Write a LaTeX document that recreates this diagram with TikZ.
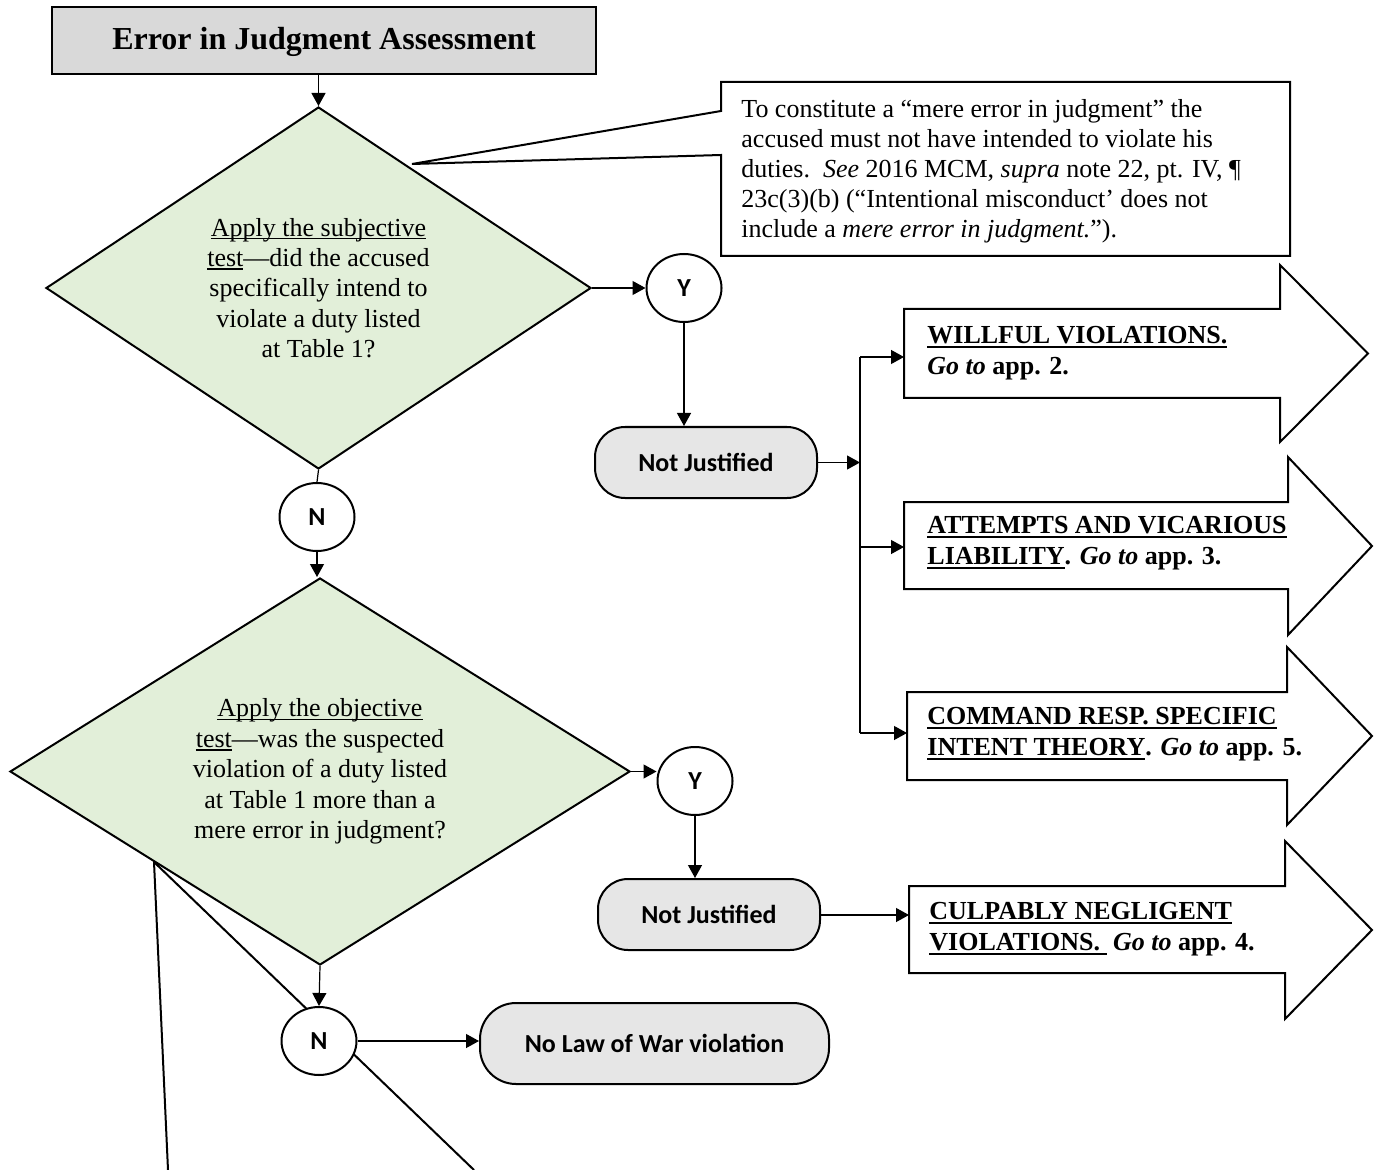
\documentclass[tikz,border=0pt]{standalone}
\usepackage{fontspec}
\setmainfont{Liberation Serif}
\newfontfamily\calibri{Carlito}
\usetikzlibrary{shapes.geometric,arrows.meta}
\definecolor{dgreen}{HTML}{E2EFD9}
\definecolor{tgray}{HTML}{D9D9D9}
\definecolor{ngray}{HTML}{E6E6E6}
\newsavebox\ulbox
\newcommand\myul[3]{\sbox\ulbox{#3}\leavevmode\rlap{\rule[-#2]{\wd\ulbox}{#1}}\usebox\ulbox}
\newcommand\thinul[1]{\myul{0.7pt}{1.7pt}{#1}}
\newcommand\thickul[1]{\myul{1.1pt}{2.2pt}{#1}}
\begin{document}
\begin{tikzpicture}[x=0.5pt,y=-0.5pt,
  titlebox/.style={draw,line width=1.2pt,fill=tgray,minimum width=272pt,minimum height=33.5pt,inner sep=0pt,text height=12.6pt,text depth=3.4pt,font=\fontsize{16}{19}\selectfont\bfseries},
  dia/.style={diamond,aspect=1.5,draw,line width=1pt,fill=dgreen,inner sep=0pt,align=center,font=\fontsize{13}{15.2}\selectfont},
  yn/.style={ellipse,draw,line width=1pt,fill=white,minimum width=37.5pt,minimum height=34pt,inner sep=0pt,font=\fontsize{13}{15}\selectfont\calibri\bfseries},
  term/.style={rectangle,rounded corners=15pt,draw,line width=1pt,fill=ngray,minimum height=35.5pt,inner sep=0pt,font=\fontsize{13}{15}\selectfont\calibri\bfseries},
  callout/.style={draw,line width=1pt,fill=white},
  ctext/.style={align=left,inner sep=0pt,font=\fontsize{13}{15}\selectfont},
  bigarrow/.style={draw,line width=1pt,fill=white},
  atext/.style={align=left,inner sep=0pt,font=\fontsize{13}{15.5}\selectfont\bfseries},
  conn/.style={line width=0.6pt,-{Triangle[length=6.5pt,width=7pt]}},
  plain/.style={line width=0.6pt},
  longline/.style={line width=1pt}]
\useasboundingbox (0,0) rectangle (1379,1170);

% title
\node[titlebox] (title) at (324,40.5) {Error in Judgment Assessment};

% first decision
\node[dia,minimum width=272.5pt,minimum height=181pt] (d1) at (318.5,288)
  {\thinul{Apply the subjective}\\ \thinul{test}—did the accused\\ specifically intend to\\ violate a duty listed\\ at Table 1?};

% callout
\coordinate (ctip) at (412,164);
\draw[callout] (721,111) -- (721,82) -- (1290,82) -- (1290,256) -- (721,256) -- (721,155) -- (ctip) -- cycle;
\node[ctext,anchor=west] (ctxt) at (741,171)
  {To constitute a “mere error in judgment” the\\
   accused must not have intended to violate his\\
   duties.\ \ \textit{See} 2016 MCM, \textit{supra} note 22, pt. IV, ¶\\
   23c(3)(b) (“Intentional misconduct' does not\\
   include a \textit{mere error in judgment.}”).};

% Y1 and not justified 1
\node[yn] (Y1) at (684,288) {Y};
\node[term,minimum width=111pt] (NJ1) at (706,462.5) {Not Justified};

% big arrows
\draw[bigarrow] (904,309) -- (1280,309) -- (1280,265) -- (1368,353.5) -- (1280,442) -- (1280,398) -- (904,398) -- cycle;
\node[atext,anchor=west] (A1) at (927,353) {\thickul{WILLFUL VIOLATIONS.}\\ \textit{Go to} app. 2.};
\coordinate (A1in) at (904,357);

\draw[bigarrow] (904,502) -- (1288,502) -- (1288,457) -- (1372,546) -- (1288,635) -- (1288,589) -- (904,589) -- cycle;
\node[atext,anchor=west] (A2) at (927,543.5) {\thickul{ATTEMPTS AND VICARIOUS}\\ \thickul{LIABILITY}. \textit{Go to} app. 3.};
\coordinate (A2in) at (904,547);

\draw[bigarrow] (907,692) -- (1287,692) -- (1287,647) -- (1372,736) -- (1287,825) -- (1287,780) -- (907,780) -- cycle;
\node[atext,anchor=west] (A3) at (927,734) {\thickul{COMMAND RESP. SPECIFIC}\\ \thickul{INTENT THEORY}. \textit{Go to} app. 5.};
\coordinate (A3in) at (907,733);

\draw[bigarrow] (909,886) -- (1285,886) -- (1285,841) -- (1372,930) -- (1285,1019) -- (1285,973) -- (909,973) -- cycle;
\node[atext,anchor=west] (A4) at (929,929) {\thickul{CULPABLY NEGLIGENT}\\ \thickul{VIOLATIONS.\ } \textit{Go to} app. 4.};
\coordinate (A4in) at (909,915);

% N1 and second decision
\node[yn] (N1) at (317,517) {N};
\node[dia,minimum width=310pt,minimum height=193.5pt] (d2) at (320,771.5)
  {\thinul{Apply the objective}\\ \thinul{test}—was the suspected\\ violation of a duty listed\\ at Table 1 more than a\\ mere error in judgment?};

% long lines at the bottom (pointer of a callout below the page)
\coordinate (ltip) at (154,862);
\coordinate (lend1) at (168,1170);
\coordinate (lend2) at (474,1170);
\draw[longline] (ltip) -- (lend1);
\draw[longline] (ltip) -- (lend2);

\node[yn] (Y2) at (695,781) {Y};
\node[term,minimum width=111pt] (NJ2) at (709,914.5) {Not Justified};
\node[yn] (N2) at (319,1041) {N};
\node[term,minimum width=174.5pt,minimum height=40.5pt,rounded corners=18pt] (NLW) at (654.5,1043.5) {No Law of War violation};

% connectors
\draw[conn] (d1.north |- title.south) -- (d1.north);
\draw[conn] (d1.east) -- (d1.east -| Y1.west);
\draw[conn] (Y1.south) -- (Y1.south |- NJ1.north);
\coordinate (br) at (860,462.5);
\draw[conn] (NJ1.east) -- (br);
\draw[plain] (br |- A1in) -- (br |- A3in);
\draw[conn] (br |- A1in) -- (A1in);
\draw[conn] (br |- A2in) -- (A2in);
\draw[conn] (br |- A3in) -- (A3in);
\draw[plain] (d1.south) -- (N1.north);
\draw[conn] (N1.south) -- (N1.south |- d2.north);
\draw[conn] (d2.east) -- (d2.east -| Y2.west);
\draw[conn] (Y2.south) -- (Y2.south |- NJ2.north);
\draw[conn] (NJ2.east |- A4in) -- (A4in);
\draw[conn] (d2.south) -- (N2.north);
\draw[conn] (N2.east) -- (N2.east -| NLW.west);
\end{tikzpicture}
\end{document}
